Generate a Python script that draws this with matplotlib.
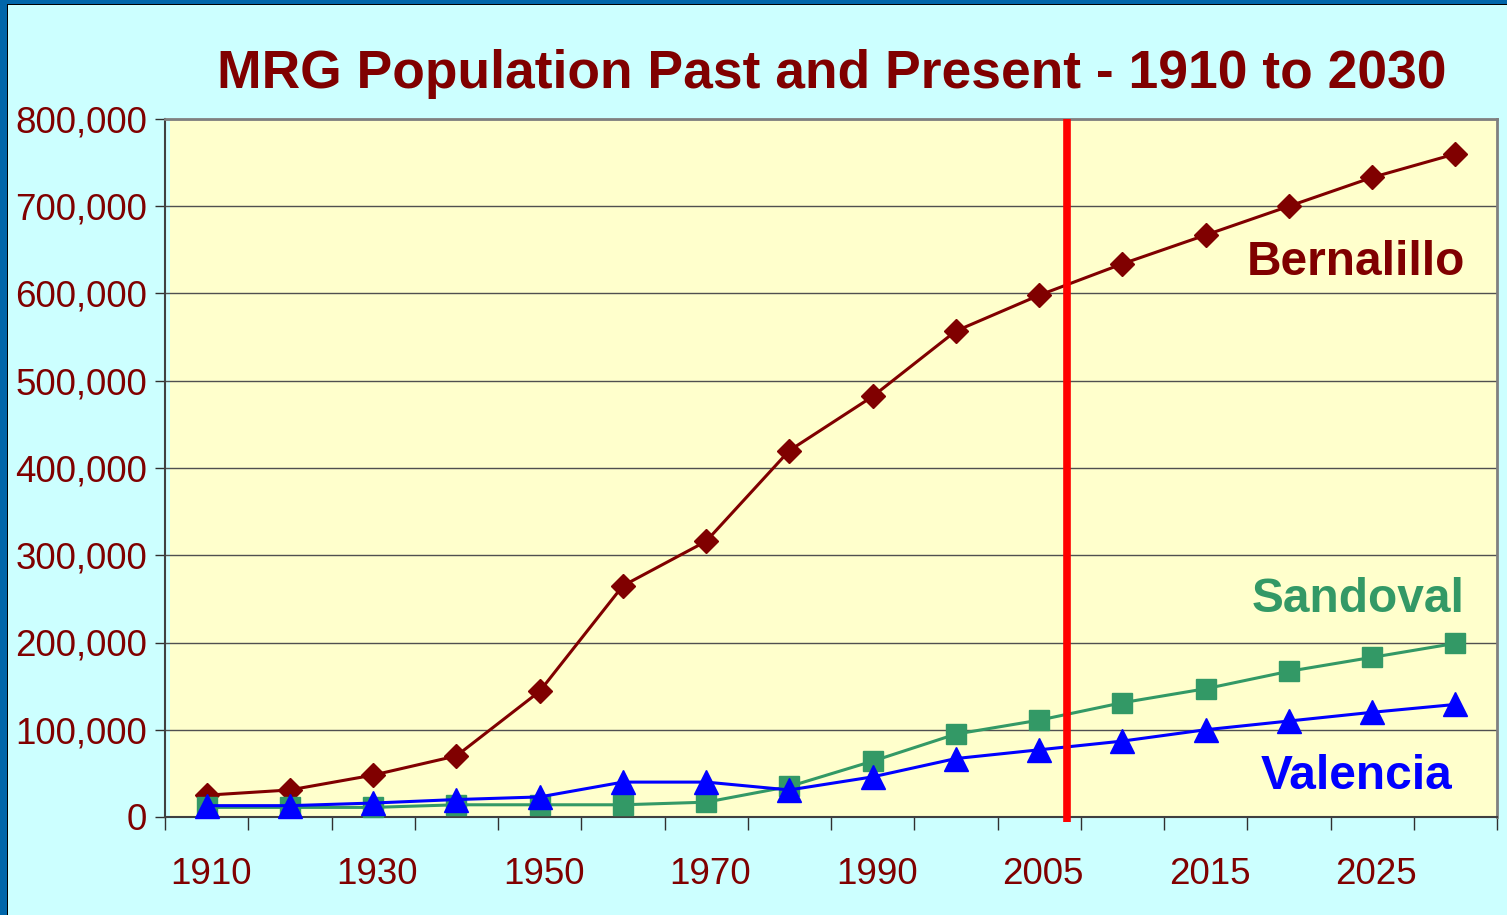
import matplotlib
matplotlib.use("Agg")
import matplotlib.pyplot as plt
from matplotlib.patches import Rectangle
import numpy as np

years = ["1910", "1920", "1930", "1940", "1950", "1960", "1970", "1980",
         "1990", "2000", "2005", "2010", "2015", "2020", "2025", "2030"]
bernalillo = [25000, 31000, 48000, 70000, 144000, 265000, 316000, 420000,
              482000, 557000, 598000, 634000, 667000, 700000, 733000, 760000]
sandoval = [11000, 11000, 11000, 14000, 14000, 14000, 17000, 35000,
            64000, 95000, 111000, 131000, 147000, 167000, 183000, 199000]
valencia = [13000, 13000, 16000, 20000, 23000, 40000, 40000, 31000,
            46000, 67000, 77000, 87000, 100000, 110000, 120000, 129000]
divider_pos = 10.33   # between 2005 and 2010 categories
yticks = list(range(0, 800001, 100000))

DARKRED = "#800000"
GREEN = "#339966"
BLUE = "#0000FF"

plt.rcParams['font.family'] = ['Liberation Sans', 'DejaVu Sans']

fig = plt.figure(figsize=(15.07, 9.15), dpi=100)
fig.patch.set_facecolor("#CCFFFF")

# figure border (left and top)
fig.patches.append(Rectangle((0, 0), 7 / 1507, 1, transform=fig.transFigure,
                             facecolor="#0066AA", edgecolor="none", zorder=5))
fig.patches.append(Rectangle((0, 1 - 4 / 915), 1, 4 / 915, transform=fig.transFigure,
                             facecolor="#0066AA", edgecolor="none", zorder=5))
fig.patches.append(Rectangle((7 / 1507, 0), 1.2 / 1507, 1 - 4 / 915, transform=fig.transFigure,
                             facecolor="#000000", edgecolor="none", zorder=5))
fig.patches.append(Rectangle((7 / 1507, 1 - 5.2 / 915), 1, 1.2 / 915, transform=fig.transFigure,
                             facecolor="#000000", edgecolor="none", zorder=5))

ax = fig.add_axes([165 / 1507, 1 - 817 / 915, (1497 - 165) / 1507, (817 - 119) / 915])
ax.set_facecolor("#CCFFFF")
ax.add_patch(Rectangle((5 / 1332, 0), 1 - 5 / 1332, 1, transform=ax.transAxes,
                       facecolor="#FFFFCC", edgecolor="none", zorder=0.1))

x = np.arange(len(years))
ax.plot(x, bernalillo, color=DARKRED, lw=2.2, marker="D", markersize=12,
        markerfacecolor=DARKRED, markeredgecolor=DARKRED, zorder=3, clip_on=False)
ax.plot(x, sandoval, color=GREEN, lw=2.2, marker="s", markersize=15,
        markerfacecolor=GREEN, markeredgecolor=GREEN, zorder=3, clip_on=False)
ax.plot(x, valencia, color=BLUE, lw=2.2, marker="^", markersize=17,
        markerfacecolor=BLUE, markeredgecolor=BLUE, zorder=4, clip_on=False)

ax.plot([divider_pos, divider_pos], [0, 800000], color="#FF0000", lw=5.5,
        solid_capstyle="butt", zorder=5)
ax.plot([divider_pos, divider_pos], [0, -6000], color="#FF0000", lw=5.5,
        solid_capstyle="butt", zorder=5, clip_on=False)

ax.set_xlim(-0.5, len(years) - 0.5)
ax.set_ylim(0, 800000)

ax.set_yticks(yticks)
ax.set_yticklabels([f"{v:,}" for v in yticks])
ax.yaxis.grid(True, color="#505050", lw=1)
ax.set_axisbelow(True)

# category boundaries as ticks, labels at every other category
ax.set_xticks(np.arange(-0.5, len(years), 1.0))
ax.set_xticklabels([])
ax.set_xticks(x[::2] + 0.05, minor=True)
ax.set_xticklabels(years[::2], minor=True)
ax.tick_params(axis="x", which="minor", length=0, pad=29, labelsize=26.5, labelcolor=DARKRED)
ax.tick_params(axis="x", which="major", length=9, width=1, color="#303030", direction="out")
ax.tick_params(axis="y", length=7, width=1, color="#303030", pad=6, labelsize=26.5,
               labelcolor=DARKRED)

for side in ["top", "right"]:
    ax.spines[side].set_color("#808080")
    ax.spines[side].set_linewidth(2)
for side in ["left", "bottom"]:
    ax.spines[side].set_color("#404040")
    ax.spines[side].set_linewidth(1.5)

fig.text(832 / 1507, 1 - 88 / 915, "MRG Population Past and Present - 1910 to 2030",
         ha="center", va="baseline", fontsize=38.4, fontweight="bold", color=DARKRED)

ax.text(1465 / 1507, 1 - 275 / 915, "Bernalillo", transform=fig.transFigure,
        ha="right", va="baseline", fontsize=34.5, fontweight="bold", color=DARKRED)
ax.text(1465 / 1507, 1 - 612 / 915, "Sandoval", transform=fig.transFigure,
        ha="right", va="baseline", fontsize=34.5, fontweight="bold", color=GREEN)
ax.text(1452 / 1507, 1 - 789 / 915, "Valencia", transform=fig.transFigure,
        ha="right", va="baseline", fontsize=34.5, fontweight="bold", color=BLUE)

fig.savefig("out.png", dpi=100, facecolor=fig.get_facecolor())
